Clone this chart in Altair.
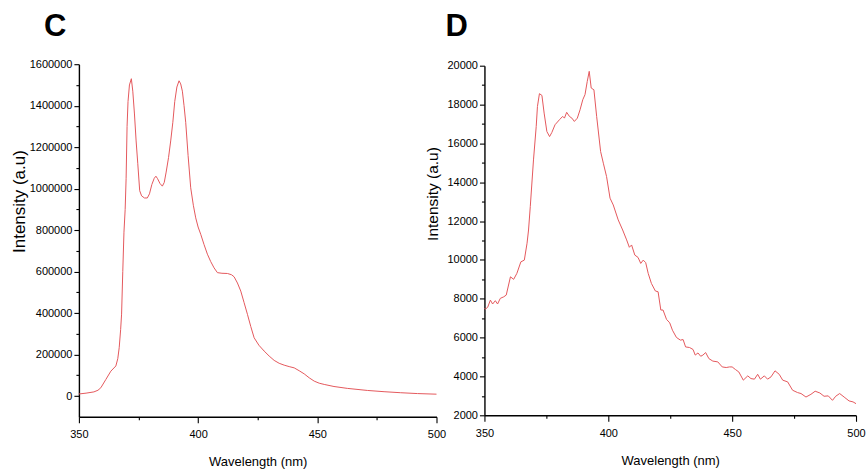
import altair as alt
import pandas as pd

# Panel C: emission spectrum, wavelength (nm) vs intensity (a.u)
c_wavelength = [
    350, 353, 356.3, 358, 359.2, 361.3, 363.4, 365.5, 366.3, 366.9, 367.5,
    367.9, 368.4, 368.9, 369.4, 369.8, 370.2, 370.6, 371.2, 372.0, 372.6,
    373.3, 374.0, 374.7, 375.5, 376.3, 377.5, 378.7, 379.6, 380.6, 381.6,
    382.3, 383.0, 384.0, 385.0, 385.8, 386.6, 387.6, 388.5, 389.4, 390.2,
    391.1, 392.0, 392.7, 393.4, 394.1, 394.8, 395.8, 396.9, 398.0, 399.0,
    400.0, 401.1, 402.5, 403.9, 405.3, 406.7, 408.1, 410.0, 412.3, 414.0,
    415.1, 416.5, 417.9, 419.3, 420.7, 422.1, 423.5, 425.5, 427.7, 429.8,
    431.9, 434.0, 436.1, 438.2, 440.3, 442.4, 444.5, 446.6, 448.7, 450.8,
    452.9, 457.0, 462.6, 471.0, 478.0, 485.0, 492.0, 500.0,
]
c_intensity = [
    10000, 14000, 20000, 28000, 40000, 80000, 120000, 145000, 180000, 233000, 320000,
    395000, 600000, 790000, 900000, 1050000, 1300000, 1420000, 1500000, 1530000, 1470000,
    1360000, 1230000, 1120000, 990000, 965000, 955000, 955000, 975000, 1020000, 1050000,
    1060000, 1048000, 1025000, 1012000, 1030000, 1080000, 1150000, 1230000, 1320000, 1420000,
    1490000, 1520000, 1505000, 1470000, 1400000, 1320000, 1160000, 1004000, 920000, 859000,
    815000, 780000, 730000, 684000, 648000, 618000, 595000, 592000, 591000, 585000,
    575000, 545000, 506000, 450000, 394000, 335000, 281000, 245000, 217000, 193000,
    172000, 158000, 149000, 142000, 136000, 122000, 107000, 88000, 72000, 62000,
    56000, 46000, 37000, 27000, 21000, 16000, 12000, 9000,
]

# Panel D: weaker, noisier emission spectrum
d_wavelength = [
    350.0, 350.4, 351.3, 352.4, 353.3, 354.4, 355.3, 356.4, 357.8, 358.8,
    360.5, 361.8, 363.1, 364.7, 366.1, 367.2, 367.8, 368.5, 369.8, 370.9,
    371.4, 372.2, 373.2, 374.1, 375.2, 376.3, 377.2, 378.5, 380.3, 381.6,
    382.3, 383.2, 384.3, 385.3, 386.3, 387.5, 388.6, 389.7, 390.6, 391.5,
    392.3, 393.1, 394.2, 395.3, 396.9, 398.0, 399.3, 400.7, 402.0, 404.0,
    405.8, 407.4, 408.5, 409.4, 410.7, 412.0, 413.1, 414.1, 415.1, 416.1,
    417.4, 419.0, 420.1, 421.2, 422.1, 423.5, 424.8, 425.9, 427.5, 429.1,
    430.2, 431.2, 432.8, 434.2, 435.1, 436.2, 437.3, 438.2, 439.3, 440.6,
    442.2, 444.2, 446.0, 447.6, 448.9, 450.0, 451.3, 452.7, 454.5, 456.3,
    457.6, 459.0, 460.3, 461.4, 463.0, 464.3, 465.7, 467.3, 469.0, 470.4,
    472.4, 474.4, 476.4, 477.8, 479.8, 481.8, 483.5, 485.4, 487.1, 488.8,
    490.5, 491.8, 493.4, 495.2, 497.2, 498.8, 500.0,
]
d_intensity = [
    7500, 7470, 7560, 7930, 7730, 7900, 7730, 8020, 8100, 8190,
    9130, 9000, 9310, 9900, 9990, 10860, 11540, 12740, 15150, 16870,
    17900, 18560, 18470, 17560, 16610, 16350, 16560, 16960, 17220, 17390,
    17300, 17600, 17390, 17300, 17130, 17300, 17730, 18250, 18510, 19190,
    19710, 18850, 18760, 17390, 15580, 14980, 14290, 13180, 12830, 12060,
    11540, 11030, 10650, 10770, 10250, 10130, 9820, 9990, 9860, 9310,
    8790, 8400, 8360, 7420, 7420, 6940, 6760, 6380, 6010, 5870,
    5900, 5520, 5490, 5390, 5100, 5210, 5040, 5100, 5230, 4920,
    4790, 4750, 4490, 4460, 4490, 4490, 4360, 4230, 3810, 4030,
    3890, 3860, 4110, 3860, 4030, 3860, 3980, 4290, 4110, 3810,
    3720, 3290, 3170, 3120, 2940, 3080, 3240, 3150, 2980, 3000,
    2770, 2980, 3120, 2940, 2740, 2690, 2600,
]

panel_letters = ["C", "D"]

c_df = pd.DataFrame({"wavelength": c_wavelength, "intensity": c_intensity})
d_df = pd.DataFrame({"wavelength": d_wavelength, "intensity": d_intensity})

LINE = "#e4585c"
SANS = "Liberation Sans"


def x_axis():
    return alt.Axis(
        values=list(range(350, 501, 25)),
        labelExpr="datum.value % 50 === 0 ? datum.label : ''",
        tickSize={"condition": {"test": "datum.value % 50 === 0", "value": 6}, "value": 3},
        labelFlush=False,
        labelOverlap=False,
        labelFont=SANS,
        labelFontSize=11,
        labelPadding=6,
        title="Wavelength (nm)",
        titleFont=SANS,
        titleFontSize=13,
        titleFontWeight="normal",
        titleBaseline="middle",
        titleY=45,
        grid=False,
        domainColor="black",
        domainWidth=1.4,
        tickColor="black",
        tickWidth=1.1,
        labelColor="black",
        titleColor="black",
    )


def y_axis(step, lo, hi, title_x, title_y, title_size):
    return alt.Axis(
        values=list(range(lo, hi + 1, step // 2)),
        labelExpr=f"datum.value % {step} === 0 ? datum.label : ''",
        tickSize={"condition": {"test": f"datum.value % {step} === 0", "value": 5}, "value": 3},
        format="d",
        labelOverlap=False,
        labelFont=SANS,
        labelFontSize=11,
        labelPadding=2,
        title="Intensity (a.u)",
        titleFont=SANS,
        titleFontSize=title_size,
        titleFontWeight="normal",
        titleAngle=-90,
        titleAlign="center",
        titleBaseline="middle",
        titleX=title_x,
        titleY=title_y,
        grid=False,
        domainColor="black",
        domainWidth=1.4,
        tickColor="black",
        tickWidth=1.1,
        labelColor="black",
        titleColor="black",
    )


def letter(text, dx, dy):
    return (
        alt.Chart(pd.DataFrame({"letter": [text]}))
        .mark_text(align="left", baseline="alphabetic", font=SANS, fontSize=31,
                   fontWeight="bold", color="black")
        .encode(x=alt.value(dx), y=alt.value(dy), text="letter:N")
    )


left_line = (
    alt.Chart(c_df)
    .mark_line(color=LINE, strokeWidth=1)
    .encode(
        x=alt.X("wavelength:Q", scale=alt.Scale(domain=[350, 500], nice=False), axis=x_axis()),
        y=alt.Y(
            "intensity:Q",
            scale=alt.Scale(domain=[-100000, 1600000], nice=False),
            axis=y_axis(200000, 0, 1600000, -59.5, 137, 17),
        ),
    )
)

right_line = (
    alt.Chart(d_df)
    .mark_line(color=LINE, strokeWidth=1)
    .encode(
        x=alt.X("wavelength:Q", scale=alt.Scale(domain=[350, 500], nice=False), axis=x_axis()),
        y=alt.Y(
            "intensity:Q",
            scale=alt.Scale(domain=[2000, 20000], nice=False),
            axis=y_axis(2000, 2000, 20000, -52, 128, 15.5),
        ),
    )
)

left = alt.layer(left_line, letter(panel_letters[0], -35, -28)).properties(width=358, height=353)
right = alt.layer(right_line, letter(panel_letters[1], -39, -30)).properties(width=372, height=350)

chart = (
    alt.hconcat(left, right, spacing=48, bounds="flush", center=True)
    .properties(padding={"left": 10, "top": 10, "right": 0, "bottom": 6}, background="white")
    .configure_view(stroke=None)
)

chart.save("out.html", embed_options={"renderer": "svg", "actions": False})
